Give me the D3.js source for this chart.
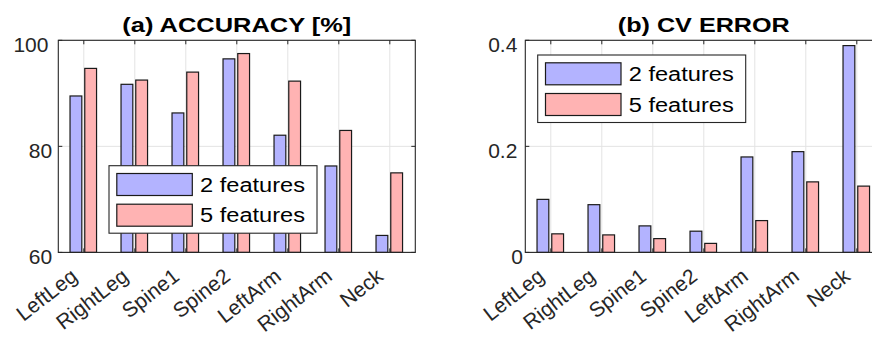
<!DOCTYPE html>
<html>
<head>
<meta charset="utf-8">
<script src="https://cdn.jsdelivr.net/npm/d3@7"></script>
<style>
  html, body { margin: 0; padding: 0; background: #ffffff; }
  svg { display: block; }
  text { font-family: "Liberation Sans", Arial, Helvetica, sans-serif; }
</style>
</head>
<body>
<svg id="chart" width="872" height="338"></svg>
<script>
// ---------------- data ----------------
const categories = ["LeftLeg", "RightLeg", "Spine1", "Spine2", "LeftArm", "RightArm", "Neck"];
const seriesNames = ["2 features", "5 features"];
const accuracy2 = [89.5, 91.7, 86.3, 96.5, 82.1, 76.3, 63.2];
const accuracy5 = [94.7, 92.5, 94.0, 97.5, 92.3, 83.0, 75.0];
const cvError2 = [0.100, 0.090, 0.050, 0.040, 0.180, 0.190, 0.390];
const cvError5 = [0.035, 0.033, 0.026, 0.017, 0.060, 0.133, 0.125];
const accuracyTicks = [60, 80, 100];
const cvErrorTicks = [0, 0.2, 0.4];
const accuracyDomain = [60, 100];
const cvErrorDomain = [0, 0.4];
const titles = ["(a) ACCURACY [%]", "(b) CV ERROR"];

// ---------------- style ----------------
const colors = ["#b3b3ff", "#ffb3b3"];
const axisColor = "#262626";
const gridColor = "#e3e3e3";
const tickFont = 21;
const catFont = 21;
const catAngle = 38;

const svg = d3.select("#chart");
svg.append("rect").attr("width", 872).attr("height", 338).attr("fill", "#fff");

const plotTop = 40.3, plotBottom = 252.4;

function panel(opts) {
  const { x0, x1, title, titleLen, s2, s5, domain, ticks, fmt, legendX, legendY } = opts;
  const g = svg.append("g");

  const x = d3.scaleBand().domain(categories).range([x0, x1]).padding(0);
  const step = x.step();
  const xs = d3.scaleBand().domain([0, 1]).range([0.23 * step, 0.75 * step]).paddingInner(0.2);
  const y = d3.scaleLinear().domain(domain).range([plotBottom, plotTop]);

  // grid
  g.append("g").selectAll("line").data(categories).join("line")
    .attr("x1", d => x(d) + step / 2).attr("x2", d => x(d) + step / 2)
    .attr("y1", plotTop).attr("y2", plotBottom)
    .attr("stroke", gridColor).attr("stroke-width", 1);
  g.append("g").selectAll("line").data(ticks).join("line")
    .attr("x1", x0).attr("x2", x1)
    .attr("y1", d => y(d)).attr("y2", d => y(d))
    .attr("stroke", gridColor).attr("stroke-width", 1);

  // bars
  const series = [s2, s5];
  series.forEach((vals, si) => {
    g.append("g").selectAll("rect").data(categories).join("rect")
      .attr("x", d => x(d) + xs(si))
      .attr("width", xs.bandwidth())
      .attr("y", (d, i) => y(vals[i]))
      .attr("height", (d, i) => y(domain[0]) - y(vals[i]))
      .attr("fill", colors[si])
      .attr("stroke", "#1a1a1a")
      .attr("stroke-width", 1.2);
  });

  // axes box
  g.append("rect").attr("x", x0).attr("y", plotTop).attr("width", x1 - x0).attr("height", plotBottom - plotTop)
    .attr("fill", "none").attr("stroke", axisColor).attr("stroke-width", 1.1);

  // tick marks (inward, both sides)
  const tl = 4;
  categories.forEach(c => {
    const cx = x(c) + step / 2;
    g.append("line").attr("x1", cx).attr("x2", cx).attr("y1", plotTop).attr("y2", plotTop + tl).attr("stroke", axisColor);
    g.append("line").attr("x1", cx).attr("x2", cx).attr("y1", plotBottom).attr("y2", plotBottom - tl).attr("stroke", axisColor);
  });
  ticks.forEach(t => {
    g.append("line").attr("x1", x0).attr("x2", x0 + tl).attr("y1", y(t)).attr("y2", y(t)).attr("stroke", axisColor);
    g.append("line").attr("x1", x1).attr("x2", x1 - tl).attr("y1", y(t)).attr("y2", y(t)).attr("stroke", axisColor);
  });

  // y tick labels
  ticks.forEach(t => {
    const txt = g.append("text").text(fmt(t))
      .attr("font-size", tickFont).attr("fill", axisColor)
      .attr("text-anchor", "end")
      .attr("y", y(t) + 11.5);
    const w = txt.node().getComputedTextLength();
    txt.attr("x", x0 + 1.4 - 0.32 * w);
  });

  // x tick labels (rotated, right-aligned below each tick)
  categories.forEach(c => {
    const cx = x(c) + step / 2;
    g.append("text").text(c)
      .attr("font-size", catFont).attr("fill", axisColor)
      .attr("text-anchor", "end")
      .attr("transform", `translate(${cx - 5.2},${plotBottom + 26.4}) rotate(${-catAngle})`);
  });

  // title
  g.append("text").text(title)
    .attr("x", (x0 + x1) / 2 - titleLen / 2).attr("y", 31.5)
    .attr("font-size", 21).attr("font-weight", "bold").attr("fill", "#000")
    .attr("textLength", titleLen).attr("lengthAdjust", "spacingAndGlyphs");

  // legend
  const lg = g.append("g").attr("transform", `translate(${legendX},${legendY})`);
  lg.append("rect").attr("width", 208).attr("height", 67.5)
    .attr("fill", "#fff").attr("stroke", axisColor).attr("stroke-width", 1.1);
  seriesNames.forEach((n, i) => {
    lg.append("rect").attr("x", 7.8).attr("y", 7.8 + i * 30.7).attr("width", 75.5).attr("height", 22)
      .attr("fill", colors[i]).attr("stroke", "#1a1a1a").attr("stroke-width", 1.2);
    lg.append("text").text(n)
      .attr("x", 91).attr("y", 26 + i * 30.7)
      .attr("font-size", 20).attr("fill", "#000")
      .attr("textLength", 105).attr("lengthAdjust", "spacingAndGlyphs");
  });
}

panel({
  x0: 58.3, x1: 415.3, title: titles[0], titleLen: 229,
  s2: accuracy2, s5: accuracy5, domain: accuracyDomain, ticks: accuracyTicks,
  fmt: d3.format("d"), legendX: 109, legendY: 165.7
});
panel({
  x0: 525.3, x1: 882.3, title: titles[1], titleLen: 172,
  s2: cvError2, s5: cvError5, domain: cvErrorDomain, ticks: cvErrorTicks,
  fmt: d => (d === 0 ? "0" : d3.format(".1f")(d)), legendX: 537.7, legendY: 55
});
</script>
</body>
</html>
